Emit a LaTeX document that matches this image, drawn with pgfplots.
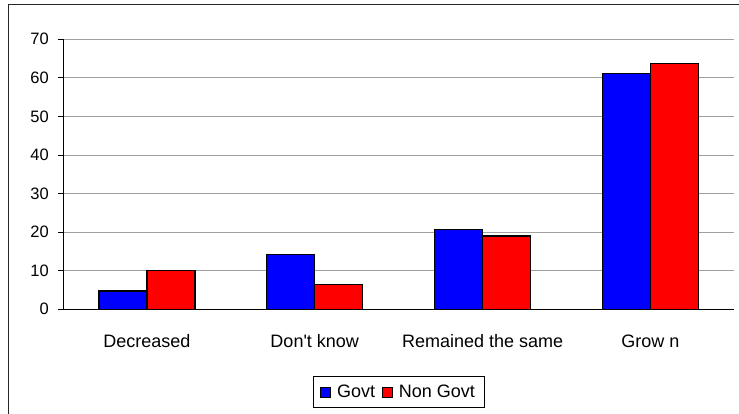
\documentclass[border=0pt]{standalone}
\usepackage{fontspec}
\setmainfont{Liberation Sans}
\usepackage{pgfplots}
\pgfplotsset{compat=1.18}
\definecolor{gblue}{RGB}{0,0,255}
\definecolor{gred}{RGB}{255,0,0}
\definecolor{gridgray}{RGB}{160,160,160}
\begin{document}
\begin{tikzpicture}
\clip (0pt,0pt) rectangle (739pt,414pt);
\useasboundingbox (0pt,0pt) rectangle (739pt,414pt);
\draw[line width=1pt, black!85] (8.5pt,409pt) rectangle (760pt,-20pt);
\begin{axis}[
  at={(63pt,104.7pt)}, anchor=south west,
  scale only axis, width=671.3pt, height=270pt,
  xmin=-0.5, xmax=3.5, ymin=0, ymax=70,
  axis lines=left, axis line style={-, black, line width=1pt},
  ybar=0pt, bar width=48pt,
  xtick={0,1,2,3},
  xticklabels={Decreased,Don\textquotesingle t know,Remained the same,Grow n},
  major x tick style={draw=none},
  extra x ticks={0.5,1.5,2.5}, extra x tick labels={},
  extra x tick style={major tick length=5pt, tick style={black, line width=0.8pt}, grid=none},
  ytick={0,10,...,70},
  tick align=outside, major tick length=5pt,
  ytick style={black, line width=0.8pt},
  ymajorgrids, grid style={gridgray, line width=0.8pt},
  /pgf/number format/assume math mode=true,
  yticklabel style={font=\fontsize{16.5}{18}\selectfont, anchor=east, inner sep=0pt, xshift=-9pt},
  xticklabel style={font=\fontsize{18}{20}\selectfont, anchor=base, inner sep=0pt, yshift=-33pt},
  legend columns=2,
  legend style={at={(0.5,-0.306)}, anchor=center, draw=black, line width=0.8pt,
    font=\fontsize{18}{20}\selectfont, inner xsep=7pt, inner ysep=6pt,
    /tikz/every odd column/.append style={column sep=4pt},
    /tikz/every even column/.append style={column sep=5pt}},
  legend image code/.code={\draw[#1, line width=0.8pt] (0pt,-5pt) rectangle (10pt,5pt);},
  clip=false,
]
\addplot[fill=gblue, draw=black, line width=1.2pt] coordinates {(0,4.75) (1,14.2) (2,20.7) (3,61.2)};
\addplot[fill=gred, draw=black, line width=1.2pt] coordinates {(0,10.1) (1,6.5) (2,19.0) (3,63.8)};
\legend{Govt,Non Govt}
\end{axis}
\end{tikzpicture}
\end{document}
